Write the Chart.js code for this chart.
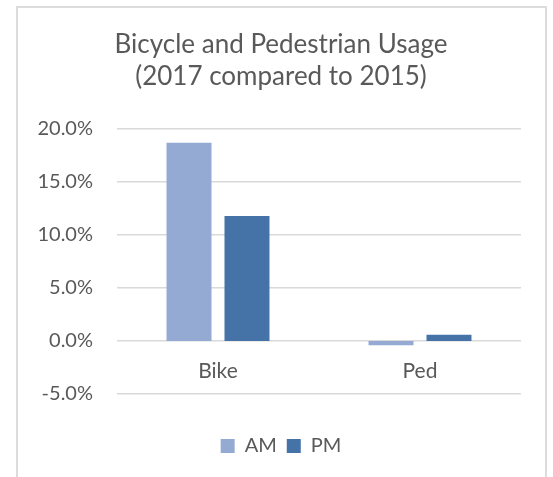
<!DOCTYPE html>
<html>
<head>
<meta charset="utf-8">
<script src="https://cdn.jsdelivr.net/npm/chart.js@4/dist/chart.umd.min.js"></script>
<style>
  body { margin: 0; background: #fff; }
  #frame {
    position: absolute; left: 16px; top: 6px; width: 531px; height: 520px;
    border: 2px solid #dcdcdc; box-sizing: border-box;
  }
  #wrap { position: absolute; left: 0; top: 0; width: 553px; height: 477px; }
</style>
</head>
<body>
<div id="frame"></div>
<div id="wrap"><canvas id="myChart"></canvas></div>
<script>
// data
var categories = ['Bike', 'Ped'];
var amValues = [18.7, -0.4];
var pmValues = [11.8, 0.6];
var titleLines = ['Bicycle and Pedestrian Usage', '(2017 compared to 2015)'];
var yTicks = [-5, 0, 5, 10, 15, 20];

var grey = '#595959';
var fontName = 'Lato, "Open Sans", sans-serif';

function drawChart(){
  var config = {
    type: 'bar',
    data: {
      labels: categories,
      datasets: [
        { label: 'AM', data: amValues, backgroundColor: '#94aad3', borderWidth: 0 },
        { label: 'PM', data: pmValues, backgroundColor: '#4573a7', borderWidth: 0 }
      ]
    },
    options: {
      responsive: true,
      maintainAspectRatio: false,
      animation: false,
      devicePixelRatio: 1,
      layout: { padding: { left: 9, right: 0, top: 0, bottom: 11 } },
      datasets: {
        bar: { categoryPercentage: 0.574, barPercentage: 0.776 }
      },
      scales: {
        // category labels sit under the 0% line like in excel
        x: {
          position: { y: 0 },
          grid: { display: false },
          border: { display: false },
          ticks: { color: grey, font: { family: fontName, size: 21 }, padding: 10 }
        },
        // empty axes, only to keep room around the plot
        xSpace: {
          type: 'category',
          position: 'bottom',
          grid: { display: false },
          border: { display: false },
          ticks: { display: false },
          afterFit: function(scale){ scale.height = 32; }
        },
        ySpace: {
          type: 'linear',
          position: 'right',
          grid: { display: false },
          border: { display: false },
          ticks: { display: false },
          afterFit: function(scale){ scale.width = 32; }
        },
        y: {
          position: 'left',
          min: yTicks[0],
          max: yTicks[yTicks.length - 1],
          grid: { color: '#d9d9d9', lineWidth: 1.5, drawTicks: false },
          border: { display: false },
          ticks: {
            stepSize: 5,
            padding: 24,
            color: grey,
            font: { family: fontName, size: 20 },
            callback: function(v){ return v.toFixed(1) + '%'; }
          },
          afterFit: function(scale){ scale.width = 108; }
        }
      },
      plugins: {
        title: {
          display: true,
          text: titleLines,
          color: grey,
          font: { family: fontName, size: 26, weight: 'normal', lineHeight: 1.23 },
          padding: { top: 29, bottom: 36 }
        },
        legend: {
          position: 'bottom',
          labels: {
            boxWidth: 14, boxHeight: 14, padding: 10,
            color: grey,
            font: { family: fontName, size: 20 }
          }
        },
        tooltip: { enabled: false }
      }
    }
  };
  new Chart(document.getElementById('myChart'), config);
}
drawChart();
</script>
</body>
</html>
